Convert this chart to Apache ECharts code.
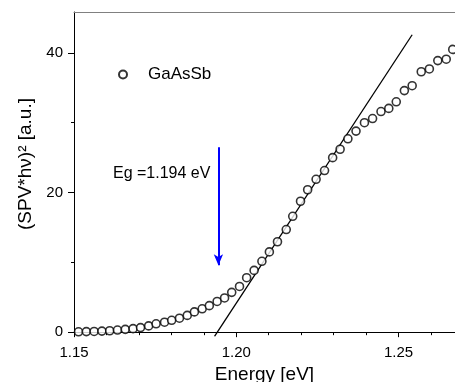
<!DOCTYPE html>
<html>
<head>
<meta charset="utf-8">
<script src="https://cdn.jsdelivr.net/npm/echarts@6/dist/echarts.min.js"></script>
<style>
  html, body { margin: 0; padding: 0; background: #fff; overflow: hidden; }
  #chart { width: 455px; height: 382px; }
</style>
</head>
<body>
<div id="chart"></div>
<script>
// photon energy [eV] and (SPV*hv)^2
const energy = [
  1.1514, 1.1538, 1.1562, 1.1586, 1.1610, 1.1634, 1.1658, 1.1682, 1.1705, 1.1730,
  1.1753, 1.1779, 1.1801, 1.1825, 1.1849, 1.1871, 1.1895, 1.1917, 1.1941, 1.1964,
  1.1986, 1.2010, 1.2032, 1.2055, 1.2079, 1.2102, 1.2127, 1.2154, 1.2174, 1.2198,
  1.2220, 1.2246, 1.2272, 1.2297, 1.2320, 1.2344, 1.2369, 1.2395, 1.2420, 1.2446,
  1.2470, 1.2493, 1.2518, 1.2542, 1.2570, 1.2595, 1.2621, 1.2647, 1.2667
]
const spv = [
  0.05, 0.08, 0.1, 0.15, 0.2, 0.3, 0.4, 0.5, 0.65, 0.9,
  1.2, 1.43, 1.7, 2.0, 2.4, 2.9, 3.35, 3.8, 4.4, 4.9,
  5.7, 6.55, 7.8, 8.85, 10.15, 11.5, 12.95, 14.7, 16.6, 18.75,
  20.4, 21.9, 23.15, 25.0, 26.2, 27.7, 28.8, 30.0, 30.6, 31.6,
  32.05, 33.0, 34.6, 35.3, 37.3, 37.7, 38.9, 39.1, 40.5
]

// linear fit (end points) and the Eg arrow
const fitX = [1.1933, 1.2542]
const fitY = [-0.6, 42.6]
const arrowX = 1.1945
const arrowY = [26.5, 9.6]

// ticks
const xMajor = [1.15, 1.20, 1.25]
const xMinor = [1.16, 1.17, 1.18, 1.19, 1.21, 1.22, 1.23, 1.24, 1.26]
const yMajor = [0, 20, 40]
const yMinor = [10, 30]

const xMin = 1.15, xMax = 1.2674
const yMin = -0.55, yMax = 45.86

const font = 'Arial, "Liberation Sans", sans-serif'

const chart = echarts.init(document.getElementById('chart'), null, { renderer: 'canvas' })

const baseX = { type: 'value', min: xMin, max: xMax, splitLine: { show: false } }
const baseY = { type: 'value', min: yMin, max: yMax, splitLine: { show: false } }

const option = {
  animation: false,
  backgroundColor: '#fff',
  grid: { left: 74, right: 0, top: 12, bottom: 46, containLabel: false, outerBoundsMode: 'none' },
  legend: {
    left: 113,
    top: 61,
    itemWidth: 40,
    itemHeight: 8,
    itemGap: 0,
    textStyle: { fontFamily: font, fontSize: 17, color: '#000' },
    data: ['GaAsSb']
  },
  xAxis: [
    {
      ...baseX,
      name: 'Energy [eV]',
      nameLocation: 'middle',
      nameGap: 25,
      nameTextStyle: { fontFamily: font, fontSize: 19, color: '#000' },
      axisLine: { lineStyle: { color: '#000', width: 1 } },
      axisTick: { show: true, customValues: xMajor, length: 5, lineStyle: { color: '#000' } },
      axisLabel: {
        customValues: xMajor,
        margin: 9,
        fontFamily: font,
        fontSize: 15,
        color: '#000',
        formatter: v => v.toFixed(2)
      }
    },
    {
      ...baseX,
      position: 'bottom',
      axisLine: { show: false },
      axisTick: { show: true, customValues: xMinor, length: 3, lineStyle: { color: '#000' } },
      axisLabel: { show: false }
    },
    {
      ...baseX,
      position: 'top',
      axisLine: { lineStyle: { color: '#808080', width: 1 } },
      axisTick: { show: false },
      axisLabel: { show: false }
    }
  ],
  yAxis: [
    {
      ...baseY,
      name: '(SPV*hν)² [a.u.]',
      nameLocation: 'middle',
      nameGap: 37,
      nameTextStyle: { fontFamily: font, fontSize: 19, color: '#000', padding: [0, 0, 0, 20] },
      axisLine: { lineStyle: { color: '#000', width: 1 } },
      axisTick: { show: true, customValues: yMajor, length: 6, lineStyle: { color: '#000' } },
      axisLabel: { customValues: yMajor, margin: 11, fontFamily: font, fontSize: 15, color: '#000' }
    },
    {
      ...baseY,
      position: 'left',
      axisLine: { show: false },
      axisTick: { show: true, customValues: yMinor, length: 3, lineStyle: { color: '#000' } },
      axisLabel: { show: false }
    }
  ],
  graphic: [
    {
      type: 'text',
      left: 113,
      top: 166,
      style: { text: 'Eg =1.194 eV', font: '16px ' + font, fill: '#000' }
    }
  ],
  series: [
    {
      name: 'GaAsSb',
      type: 'scatter',
      symbol: 'circle',
      symbolSize: 8,
      clip: false,
      itemStyle: { color: '#fff', borderColor: '#000', borderWidth: 1.6 },
      data: energy.map((e, i) => [e, spv[i]]),
      z: 3
    },
    {
      name: 'fit',
      type: 'line',
      showSymbol: false,
      symbol: 'none',
      lineStyle: { color: '#000', width: 1.3 },
      data: fitX.map((x, i) => [x, fitY[i]]),
      markLine: {
        silent: true,
        symbol: ['none', 'arrow'],
        symbolSize: [7, 11],
        label: { show: false },
        lineStyle: { color: '#0000ff', width: 2, type: 'solid' },
        data: [[
          { coord: [arrowX, arrowY[0]] },
          { coord: [arrowX, arrowY[1]] }
        ]]
      },
      z: 2
    }
  ]
}

chart.setOption(option)
</script>
</body>
</html>
